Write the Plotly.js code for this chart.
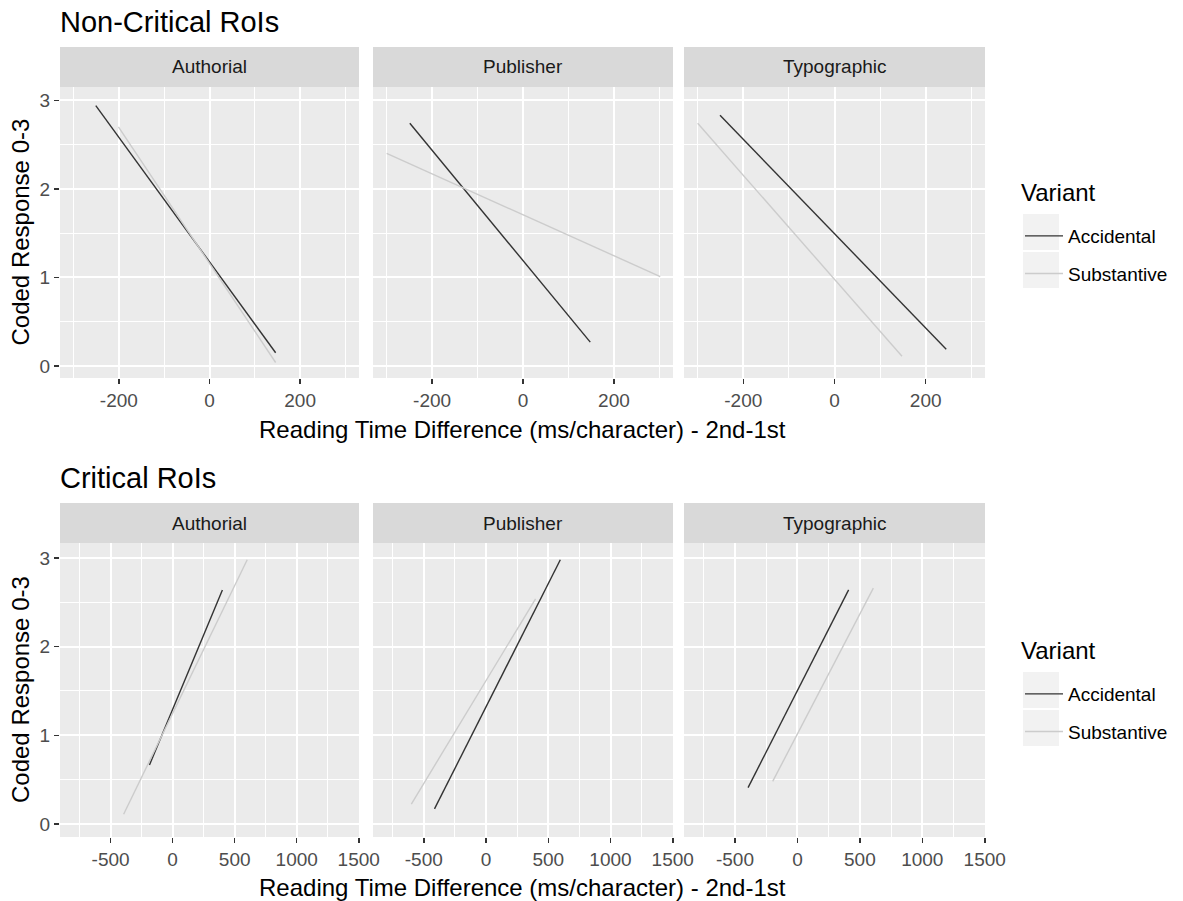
<!DOCTYPE html>
<html>
<head>
<meta charset="utf-8">
<script src="https://cdn.plot.ly/plotly-3.0.1.min.js"></script>
<style>
html,body{margin:0;padding:0;background:#fff;}
#chart{width:1183px;height:901px;}
</style>
</head>
<body>
<div id="chart"></div>
<script>
// ---- data ----
const facets = ['Authorial', 'Publisher', 'Typographic'];
const variants = ['Accidental', 'Substantive'];
const legendTitle = 'Variant';
const rowTitles = ['Non-Critical RoIs', 'Critical RoIs'];
const xTitle = 'Reading Time Difference (ms/character) - 2nd-1st';
const yTitle = 'Coded Response 0-3';

// Non-critical RoIs: fitted line end points per facet
const ncAccX = [[-251, 146], [-249, 148], [-251, 245]];
const ncAccY = [[2.94, 0.15], [2.74, 0.27], [2.83, 0.19]];
const ncSubX = [[-201, 146], [-300, 302], [-300, 148]];
const ncSubY = [[2.70, 0.04], [2.40, 1.01], [2.74, 0.11]];

// Critical RoIs
const cAccX = [[-187, 401], [-414, 597], [-395, 410]];
const cAccY = [[0.665, 2.64], [0.17, 2.98], [0.41, 2.64]];
const cSubX = [[-395, 601], [-600, 398], [-198, 608]];
const cSubY = [[0.11, 2.98], [0.225, 2.54], [0.48, 2.66]];

// tick values
const ncXTicks = [-200, 0, 200];
const cXTicks = [-500, 0, 500, 1000, 1500];
const yTicks = [0, 1, 2, 3];

// ---- layout geometry (pixels) ----
const W = 1183, H = 901;
const fx = v => v / W;
const fy = v => 1 - v / H;
const cols = [[60, 359], [373, 673], [684, 985]];
const rowsPlot = [[87, 378], [543, 837]];
const rowsStrip = [[47, 87], [503, 543]];
const xRanges = [[-330, 330], [-908, 1502]];
const yRanges = [[-0.135, 3.15], [-0.147, 3.169]];
const colors = {Accidental: '#333333', Substantive: '#CCCCCC'};
const FONT = 'Liberation Sans, Arial, sans-serif';

const rowData = [
  {acc: [ncAccX, ncAccY], sub: [ncSubX, ncSubY], xt: ncXTicks, minor: 100},
  {acc: [cAccX, cAccY], sub: [cSubX, cSubY], xt: cXTicks, minor: 250}
];

const traces = [];
const layout = {
  width: W, height: H,
  margin: {l: 0, r: 0, t: 0, b: 0},
  paper_bgcolor: '#ffffff',
  plot_bgcolor: '#EBEBEB',
  font: {family: FONT, color: '#000000'},
  showlegend: true,
  annotations: [],
  shapes: []
};

for (let r = 0; r < 2; r++) {
  const rd = rowData[r];
  for (let c = 0; c < 3; c++) {
    const i = r * 3 + c + 1;
    const xk = i === 1 ? 'xaxis' : 'xaxis' + i;
    const yk = i === 1 ? 'yaxis' : 'yaxis' + i;
    const xr = i === 1 ? 'x' : 'x' + i;
    const yr = i === 1 ? 'y' : 'y' + i;
    layout[xk] = {
      domain: [fx(cols[c][0]), fx(cols[c][1])],
      anchor: yr,
      range: xRanges[r],
      tickmode: 'array', tickvals: rd.xt, ticktext: rd.xt.map(String),
      ticks: 'outside', ticklen: 5, tickwidth: 1.5, tickcolor: '#333333',
      tickfont: {size: 19, color: '#4D4D4D', family: FONT},
      showgrid: true, gridcolor: '#FFFFFF', gridwidth: 2,
      minor: {tickmode: 'linear', tick0: 0, dtick: rd.minor, showgrid: true, gridcolor: '#FFFFFF', gridwidth: 1, ticks: ''},
      zeroline: false, showline: false, fixedrange: true
    };
    layout[yk] = {
      domain: [fy(rowsPlot[r][1]), fy(rowsPlot[r][0])],
      anchor: xr,
      range: yRanges[r],
      tickmode: 'array', tickvals: yTicks, ticktext: yTicks.map(String),
      ticks: c === 0 ? 'outside' : '', ticklen: 5, tickwidth: 1.5, tickcolor: '#333333',
      showticklabels: c === 0,
      tickfont: {size: 19, color: '#4D4D4D', family: FONT},
      showgrid: true, gridcolor: '#FFFFFF', gridwidth: 2,
      minor: {tickmode: 'linear', tick0: 0, dtick: 0.5, showgrid: true, gridcolor: '#FFFFFF', gridwidth: 1, ticks: ''},
      zeroline: false, showline: false, fixedrange: true
    };
    const legendName = r === 0 ? 'legend' : 'legend2';
    [[variants[0], rd.acc], [variants[1], rd.sub]].forEach(([name, xy]) => {
      traces.push({
        type: 'scatter', mode: 'lines',
        x: xy[0][c], y: xy[1][c],
        xaxis: xr, yaxis: yr,
        name: name,
        legend: legendName,
        legendgroup: name + r,
        showlegend: c === 0,
        line: {color: colors[name], width: 1.4},
        hoverinfo: 'skip'
      });
    });
    // strip
    layout.shapes.push({
      type: 'rect', xref: 'paper', yref: 'paper', layer: 'below',
      x0: fx(cols[c][0]), x1: fx(cols[c][1]),
      y0: fy(rowsStrip[r][1]), y1: fy(rowsStrip[r][0]),
      fillcolor: '#D9D9D9', line: {width: 0}
    });
    layout.annotations.push({
      xref: 'paper', yref: 'paper', showarrow: false,
      x: fx((cols[c][0] + cols[c][1]) / 2), y: fy((rowsStrip[r][0] + rowsStrip[r][1]) / 2),
      xanchor: 'center', yanchor: 'middle',
      text: facets[c], font: {size: 19, color: '#1A1A1A', family: FONT}
    });
  }
  // row title
  layout.annotations.push({
    xref: 'paper', yref: 'paper', showarrow: false,
    x: fx(58), y: fy(r === 0 ? 22 : 478), xanchor: 'left', yanchor: 'middle',
    text: rowTitles[r], font: {size: 29, color: '#000000', family: FONT}
  });
  // x title
  layout.annotations.push({
    xref: 'paper', yref: 'paper', showarrow: false,
    x: fx(522.5), y: fy(r === 0 ? 430 : 887), xanchor: 'center', yanchor: 'middle',
    text: xTitle, font: {size: 24, color: '#000000', family: FONT}
  });
  // y title
  layout.annotations.push({
    xref: 'paper', yref: 'paper', showarrow: false,
    x: fx(20), y: fy((rowsPlot[r][0] + rowsPlot[r][1]) / 2), xanchor: 'center', yanchor: 'middle',
    textangle: -90,
    text: yTitle, font: {size: 24, color: '#000000', family: FONT}
  });
  const off = r === 0 ? 0 : 458;
  // legend title
  layout.annotations.push({
    xref: 'paper', yref: 'paper', showarrow: false,
    x: fx(1019), y: fy(192 + off), xanchor: 'left', yanchor: 'middle',
    text: legendTitle, font: {size: 24, color: '#000000', family: FONT}
  });
  // legend key backgrounds
  [[214, 250], [252, 288]].forEach(b => {
    layout.shapes.push({
      type: 'rect', xref: 'paper', yref: 'paper', layer: 'below',
      x0: fx(1023), x1: fx(1059), y0: fy(b[1] + off), y1: fy(b[0] + off),
      fillcolor: '#F2F2F2', line: {width: 0}
    });
  });
}

const legendBase = {
  xanchor: 'left', yanchor: 'top',
  bgcolor: 'rgba(0,0,0,0)', borderwidth: 0,
  font: {size: 19, color: '#000000', family: FONT},
  itemwidth: 38, tracegroupgap: 10,
  itemclick: false, itemdoubleclick: false
};
layout.legend = Object.assign({}, legendBase, {x: fx(1020), y: fy(217)});
layout.legend2 = Object.assign({}, legendBase, {x: fx(1020), y: fy(675)});

Plotly.newPlot('chart', traces, layout, {displayModeBar: false, staticPlot: true});
</script>
</body>
</html>
